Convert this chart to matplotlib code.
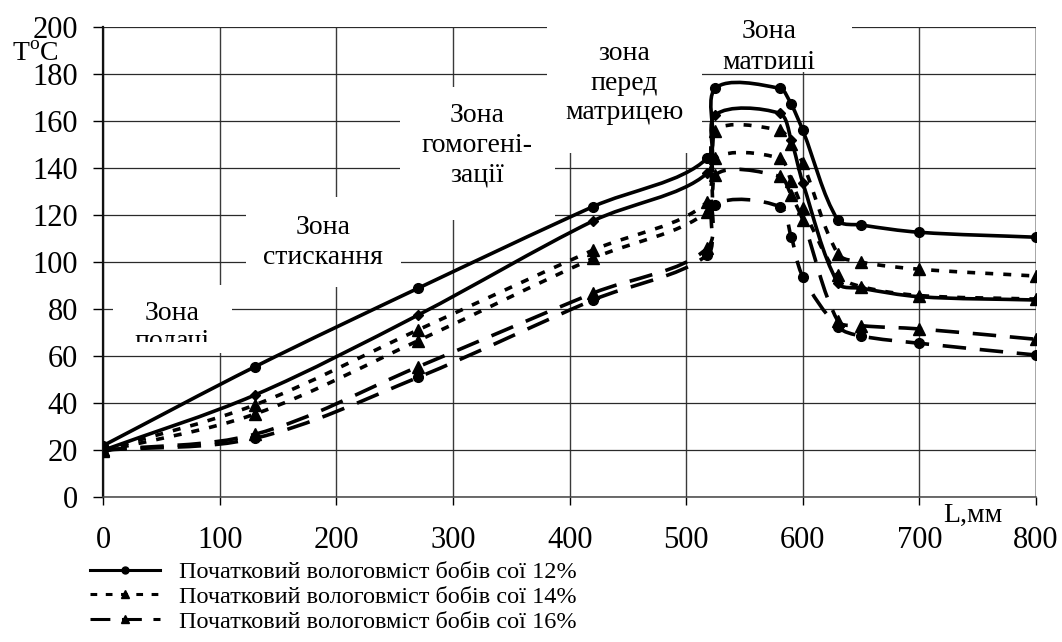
import numpy as np
import matplotlib
matplotlib.use("Agg")
import matplotlib.pyplot as plt
from matplotlib.path import Path
from matplotlib.patches import PathPatch, Rectangle
from matplotlib.lines import Line2D
from matplotlib.transforms import Bbox, TransformedBbox

plt.rcParams["font.family"] = ["Liberation Serif", "DejaVu Serif"]
plt.rcParams["mathtext.fontset"] = "custom"
plt.rcParams["mathtext.rm"] = "Liberation Serif"

# Distance along the extruder, mm
L = [0, 130, 270, 420, 518, 525, 580, 590, 600, 630, 650, 700, 800]

# Temperature profiles, degrees C
t12_a = [22, 55.5, 88.9, 123.6, 144.2, 173.9, 173.9, 167.1, 156.0, 117.9, 115.8, 112.7, 110.6]
t12_b = [20, 43.5, 77.5, 117.5, 137.8, 162.6, 163.3, 152.0, 133.7, 91.1, 88.9, 85.3, 83.9]
t14_a = [20, 39.3, 71.2, 105.1, 125.7, 155.9, 156.2, 150.3, 142.0, 103.6, 100.0, 97.0, 94.1]
t14_b = [19.5, 35.4, 66.6, 101.6, 121.5, 144.2, 144.2, 134.5, 123.0, 94.6, 89.6, 85.8, 84.3]
t16_a = [20, 26.8, 55.5, 86.8, 106.0, 137.0, 136.5, 128.5, 117.9, 75.0, 73.0, 71.6, 67.2]
t16_b = [20, 25.1, 51.0, 83.9, 103.0, 124.5, 123.6, 110.8, 93.8, 72.5, 68.6, 65.5, 60.5]

x_ticks = [0, 100, 200, 300, 400, 500, 600, 700, 800]
y_ticks = [0, 20, 40, 60, 80, 100, 120, 140, 160, 180, 200]

legend_labels = [
    "Початковий вологовміст бобів сої 12%",
    "Початковий вологовміст бобів сої 14%",
    "Початковий вологовміст бобів сої 16%",
]

W, H = 1062, 642
fig = plt.figure(figsize=(W / 100, H / 100), dpi=100)
ax = fig.add_axes([103.3 / W, 1 - 497.3 / H, (1036 - 103.3) / W, (497.3 - 27) / H])
ax.set_xlim(0, 800)
ax.set_ylim(0, 200)
ax.set_xticks(x_ticks)
ax.set_yticks(y_ticks)
ax.set_axisbelow(True)
ax.grid(True, axis="y", color="#2a2a2a", lw=0.9)
ax.grid(True, axis="x", color="#3a3a3a", lw=1.0)
ax.get_xgridlines()[-1].set_color("#8c8c8c")
ax.get_xgridlines()[-1].set_linewidth(1.8)
for s in ("top", "right"):
    ax.spines[s].set_visible(False)
ax.spines["left"].set_linewidth(1.6)
ax.spines["left"].set_color("#111111")
ax.spines["bottom"].set_linewidth(1.1)
ax.spines["bottom"].set_color("#444444")
ax.tick_params(axis="y", direction="out", length=7.2, width=1.0, pad=11, labelsize=22)
ax.tick_params(axis="x", direction="out", length=5.8, width=1.0, pad=15, labelsize=22)


def fx(px):
    return px / W


def fy(py):
    return 1 - py / H


def smooth_path(xs, ys):
    # Bezier curve through the points, tangents weighted by chord length (screen space)
    pts = ax.transData.transform(np.column_stack([xs, ys]).astype(float))
    n = len(pts)
    d = np.hypot(*np.diff(pts, axis=0).T)

    def tangent(i):
        return pts[min(i + 1, n - 1)] - pts[max(i - 1, 0)]

    verts = [pts[0]]
    codes = [Path.MOVETO]
    for i in range(n - 1):
        dl = d[i - 1] if i > 0 else 0.0
        dr = d[i + 1] if i + 1 < n - 1 else 0.0
        c1 = pts[i] + tangent(i) * d[i] / (dl + d[i]) / 3
        c2 = pts[i + 1] - tangent(i + 1) * d[i] / (d[i] + dr) / 3
        verts += [c1, c2, pts[i + 1]]
        codes += [Path.CURVE4] * 3
    verts = ax.transData.inverted().transform(np.array(verts))
    return Path(verts, codes)


LW = 2.6
SOLID = "-"
SHORT = (0, (2.2, 2.8))
LONG = (0, (6.5, 3.8))

series = [
    (t12_a, SOLID, "o", 7.0),
    (t12_b, SOLID, "D", 5.0),
    (t14_a, SHORT, "^", 8.0),
    (t14_b, SHORT, "^", 8.0),
    (t16_a, LONG, "^", 8.0),
    (t16_b, LONG, "o", 7.0),
]
for vals, ls, mk, ms in series:
    patch = PathPatch(smooth_path(L, vals), transform=ax.transData, fill=False,
                      edgecolor="black", lw=LW, linestyle=ls, capstyle="butt", zorder=3)
    ax.add_patch(patch)
    ax.plot(L, vals, linestyle="none", marker=mk, ms=ms, color="black", zorder=4)

# White text boxes with zone names
boxes = [
    ((113, 231.7, 285, 353), [("Зона", 320), ("подачі", 348)], 172.3, 342.0),
    ((245.5, 401, 196.7, 287.3), [("Зона", 234), ("стискання", 264)], 323.0, None),
    ((400, 555, 86.7, 220), [("Зона", 122), ("гомогені-", 152), ("зації", 182)], 477.0, None),
    ((546.7, 701.7, -5, 153.3), [("зона", 60), ("перед", 89.5), ("матрицею", 119)], 624.2, None),
    ((686, 851.7, -5, 71.5), [("Зона", 37.5), ("матриці", 69)], 769.0, 68.5),
]
for (x0, x1, y0, y1), lines, cx, clip_y in boxes:
    ax.add_artist(Rectangle((fx(x0), fy(y1)), fx(x1) - fx(x0), fy(y0) - fy(y1),
                            transform=fig.transFigure, facecolor="white",
                            edgecolor="none", zorder=1.8, clip_on=False))
    for txt, base in lines:
        t = ax.text(fx(cx), fy(base), txt, transform=fig.transFigure, ha="center",
                    va="baseline", fontsize=20, zorder=5)
        if clip_y is not None:
            t.set_clip_box(TransformedBbox(Bbox.from_extents(fx(x0), fy(clip_y), fx(x1), fy(y0)),
                                           fig.transFigure))
            t.set_clip_on(True)
        else:
            t.set_clip_on(False)

fig.text(fx(12), fy(61), r"T$^{\mathrm{o}}$C", fontsize=20, ha="left", va="baseline")
fig.text(fx(943), fy(522), "L,мм", fontsize=20, ha="left", va="baseline")

handles = [
    Line2D([], [], color="black", lw=2.2, ls=SOLID, marker="o", ms=5),
    Line2D([], [], color="black", lw=2.2, ls=SHORT, marker="^", ms=6),
    Line2D([], [], color="black", lw=2.2, ls=LONG, marker="^", ms=6),
]
fig.legend(handles, legend_labels, loc="upper left", bbox_to_anchor=(fx(89.5), fy(561)),
           frameon=False, fontsize=17.5, handlelength=2.9, handletextpad=0.8,
           labelspacing=0.12, borderpad=0, borderaxespad=0, numpoints=1)

fig.savefig("out.png", dpi=100)
